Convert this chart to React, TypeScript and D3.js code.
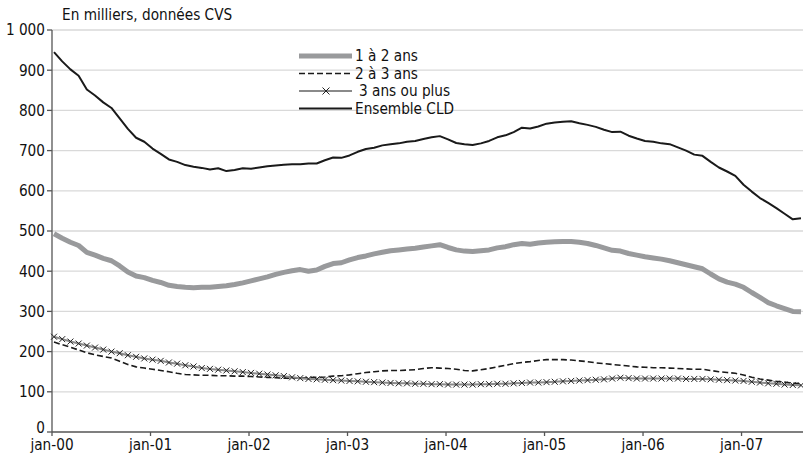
import React from "react";
import * as d3 from "d3";

const yearLabels = ["jan-00", "jan-01", "jan-02", "jan-03", "jan-04", "jan-05", "jan-06", "jan-07"];
const yTicks = [0, 100, 200, 300, 400, 500, 600, 700, 800, 900, 1000];

// Monthly values, jan-2000 .. aug-2007
const ensembleCLD = [
  945, 922, 902, 886, 852, 837, 820, 806, 780, 754, 732, 722,
  705, 692, 678, 672, 664, 660, 657, 653, 656, 649, 652, 656,
  655, 658, 661, 663, 665, 666, 666, 668, 668, 676, 683, 682,
  688, 697, 704, 707, 713, 716, 718, 722, 724, 729, 733, 736,
  728, 719, 716, 714, 718, 724, 733, 738, 746, 757, 755, 760,
  767, 770, 772, 773, 768, 764, 759, 752, 746, 747, 737, 730,
  724, 722, 718, 716, 708, 700, 690, 687, 672, 658, 648, 637,
  615, 598, 582, 570, 557, 543, 529, 532,
];
const unADeuxAns = [
  493, 482, 472, 464, 447, 440, 432, 426, 413, 398, 388, 384,
  377, 372, 365, 362, 360, 359, 360, 360, 362, 364, 367, 371,
  376, 381, 386, 392, 397, 401, 404, 400, 403, 412, 419, 421,
  428, 434, 438, 443, 447, 451, 453, 455, 457, 460, 463, 466,
  459, 453, 450, 449, 451, 453, 458, 461, 466, 469, 467, 470,
  472, 473, 474, 474, 472, 469, 464, 458, 452, 450, 444, 440,
  436, 433, 430, 426, 421, 416, 411, 406, 393, 381, 373, 368,
  360, 347, 335, 322, 314, 307, 300, 299,
];
const deuxATroisAns = [
  224, 217, 211, 204, 197, 192, 188, 184, 176, 168, 162, 159,
  156, 153, 150, 146, 143, 142, 141, 141, 140, 140, 139, 139,
  138, 137, 136, 135, 134, 134, 134, 135, 136, 137, 139, 140,
  142, 145, 148, 150, 152, 153, 153, 154, 155, 158, 160, 159,
  158, 156, 153, 152, 155, 158, 162, 166, 170, 173, 175, 178,
  180, 180, 180, 179, 177, 175, 172, 170, 168, 166, 164, 162,
  161, 160, 160, 159, 158, 157, 156, 156, 153, 150, 148, 146,
  142, 136, 132, 129, 126, 124, 121, 120,
];
const troisAnsPlus = [
  237, 231, 225, 220, 215, 210, 205, 200, 196, 191, 187, 183,
  180, 177, 173, 170, 166, 163, 159, 157, 155, 153, 151, 149,
  147, 145, 143, 141, 139, 136, 134, 132, 131, 130, 129, 128,
  127, 126, 125, 124, 123, 122, 121, 121, 120, 120, 119, 119,
  118, 118, 118, 118, 119, 119, 120, 120, 121, 122, 123, 123,
  124, 125, 126, 127, 128, 129, 130, 131, 133, 135, 134, 133,
  133, 133, 133, 133, 133, 132, 132, 132, 131, 130, 129, 128,
  127, 125, 123, 121, 120, 118, 117, 116,
];

const seriesNames = ["1 à 2 ans", "2 à 3 ans", "3 ans ou plus", "Ensemble CLD"];

const W = 803;
const H = 457;
const FONT = "'DejaVu Sans Condensed', 'Liberation Sans Narrow', sans-serif";
const FS = 15.2;

export default function App() {
  const n = ensembleCLD.length;
  const x = d3.scaleLinear().domain([0, n - 1]).range([54, 801]);
  const y = d3.scaleLinear().domain([0, 1000]).range([432, 30]);
  const line = d3
    .line<number>()
    .x((_, i) => x(i))
    .y((d) => y(d));

  const axisX = 52;
  const axisY = y(0);
  const tickMonths = yearLabels.map((_, i) => i * 12);

  const legendX = 299;
  const legendY0 = 56;
  const legendDy = 17.5;

  const xMark = (cx: number, cy: number, s: number, key: string) => (
    <path
      key={key}
      d={`M${cx - s},${cy - s}L${cx + s},${cy + s}M${cx - s},${cy + s}L${cx + s},${cy - s}`}
      stroke="#222"
      strokeWidth={1}
      fill="none"
    />
  );

  return (
    <svg
      width={W}
      height={H}
      style={{ position: "absolute", left: 0, top: 0, background: "#fff" }}
      fontFamily={FONT}
    >
      <rect x={0} y={0} width={W} height={H} fill="#fff" />
      {/* gridlines */}
      {yTicks
        .filter((t) => t > 0)
        .map((t) => (
          <line key={t} x1={axisX} x2={W} y1={y(t)} y2={y(t)} stroke="#d9d9d9" strokeWidth={1.3} />
        ))}
      {/* y axis */}
      <line x1={axisX} x2={axisX} y1={y(1000)} y2={axisY} stroke="#555" strokeWidth={1.3} />
      {yTicks.map((t) => (
        <g key={t}>
          <line x1={axisX - 5} x2={axisX} y1={y(t)} y2={y(t)} stroke="#555" strokeWidth={1.3} />
          <text
            x={axisX - 7}
            y={y(t) - (t === 0 ? 4 : 0)}
            dy="0.35em"
            textAnchor="end"
            fontSize={FS}
            fill="#111"
          >
            {d3.format(",")(t).replace(",", " ")}
          </text>
        </g>
      ))}
      {/* x axis */}
      <line x1={axisX} x2={W} y1={axisY} y2={axisY} stroke="#555" strokeWidth={1.3} />
      {tickMonths.map((m, i) => (
        <g key={m}>
          <line x1={x(m) - 2} x2={x(m) - 2} y1={axisY} y2={axisY + 4} stroke="#555" strokeWidth={1.3} />
          <text x={x(m) - 2} y={axisY + 18} textAnchor="middle" fontSize={FS} fill="#111">
            {yearLabels[i]}
          </text>
        </g>
      ))}
      {/* title */}
      <text x={62} y={20} fontSize={FS} fill="#111">
        En milliers, données CVS
      </text>

      {/* series */}
      <path d={line(unADeuxAns) || ""} fill="none" stroke="#999a9c" strokeWidth={5} strokeLinejoin="round" />
      <path
        d={line(deuxATroisAns) || ""}
        fill="none"
        stroke="#1a1a1a"
        strokeWidth={1.6}
        strokeDasharray="6,3"
      />
      <path d={line(troisAnsPlus) || ""} fill="none" stroke="#8a8a8a" strokeWidth={2} />
      {troisAnsPlus.map((v, i) => xMark(x(i), y(v), 3, `m${i}`))}
      <path d={line(ensembleCLD) || ""} fill="none" stroke="#1a1a1a" strokeWidth={2} strokeLinejoin="round" />

      {/* legend */}
      <g>
        <line x1={legendX} x2={legendX + 53} y1={legendY0} y2={legendY0} stroke="#999a9c" strokeWidth={5} />
        <text x={legendX + 56} y={legendY0} dy="0.35em" fontSize={FS} fill="#111">
          {seriesNames[0]}
        </text>
        <line
          x1={legendX}
          x2={legendX + 53}
          y1={legendY0 + legendDy}
          y2={legendY0 + legendDy}
          stroke="#1a1a1a"
          strokeWidth={1.6}
          strokeDasharray="6,3"
        />
        <text x={legendX + 56} y={legendY0 + legendDy} dy="0.35em" fontSize={FS} fill="#111">
          {seriesNames[1]}
        </text>
        <line
          x1={legendX}
          x2={legendX + 53}
          y1={legendY0 + 2 * legendDy}
          y2={legendY0 + 2 * legendDy}
          stroke="#8a8a8a"
          strokeWidth={2}
        />
        {xMark(legendX + 27, legendY0 + 2 * legendDy, 3.5, "lm")}
        <text x={legendX + 60} y={legendY0 + 2 * legendDy} dy="0.35em" fontSize={FS} fill="#111">
          {seriesNames[2]}
        </text>
        <line
          x1={legendX}
          x2={legendX + 53}
          y1={legendY0 + 3 * legendDy}
          y2={legendY0 + 3 * legendDy}
          stroke="#1a1a1a"
          strokeWidth={2}
        />
        <text x={legendX + 56} y={legendY0 + 3 * legendDy} dy="0.35em" fontSize={FS} fill="#111">
          {seriesNames[3]}
        </text>
      </g>
    </svg>
  );
}
